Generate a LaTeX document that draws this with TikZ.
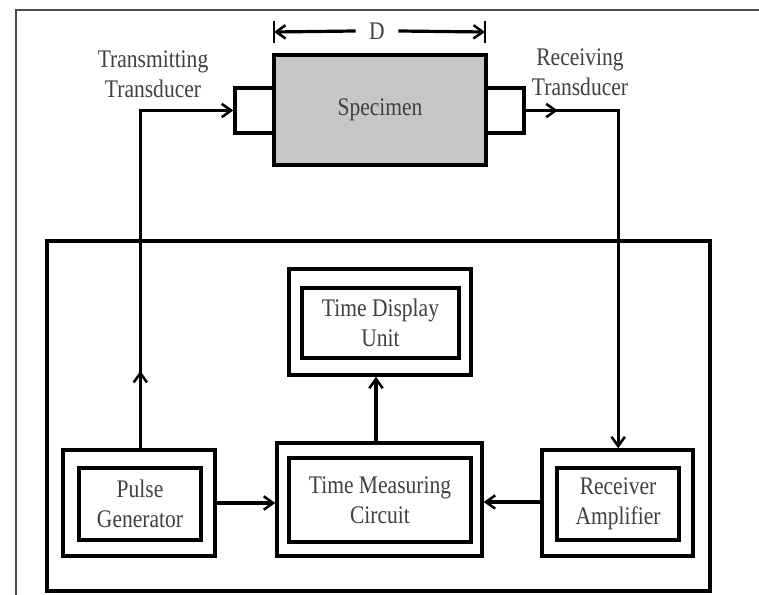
\documentclass[tikz,border=0pt]{standalone}
\usepackage{fontspec}
\setmainfont{Liberation Serif}[FakeStretch=0.85]
\usetikzlibrary{arrows.meta,decorations.markings}

\newcommand{\lblfont}{\fontsize{19}{22.5}\selectfont}

\begin{document}
\begin{tikzpicture}[x=0.75pt,y=-0.75pt,
  tip/.style={-{Straight Barb[length=7pt,width=10pt,line width=1.9pt]}},
  wire/.style={line width=2.4pt, line join=miter},
  midtip/.style={postaction={decorate},
    decoration={markings, mark=at position #1 with {\arrow{Straight Barb[length=7pt,width=10pt,line width=1.9pt]}}}},
  outerbox/.style={draw, line width=2.6pt, inner sep=0pt, fill=white},
  innerbox/.style={draw, line width=2.6pt, inner sep=0pt, align=center,
    font=\lblfont, text=black!75},
  label/.style={align=center, font=\lblfont, text=black!75, inner sep=0pt}]

% page extent
\useasboundingbox (0,0) rectangle (759,595);

% thin frame round the page
\draw[line width=1.5pt, black!70] (16,595) -- (16,10) -- (759,10);

% specimen with its two transducers
\node[outerbox, minimum width=29.25pt, minimum height=33.75pt] (lt) at (254.5,110.5) {};
\node[outerbox, minimum width=28.5pt, minimum height=33.75pt] (rt) at (505,110.5) {};
\node[draw, line width=2.6pt, fill=gray!45, inner sep=0pt,
      minimum width=159pt, minimum height=82.5pt,
      font=\lblfont, text=black!75] (spec) at (380,110) {Specimen};

% length D
\coordinate (dl) at (274,32);
\coordinate (dr) at (485,32);
\node[label] (dlab) at (377,31) {D};
\draw[line width=2.2pt] (274,21) -- (274,43);
\draw[line width=2.2pt] (485,21) -- (485,43);
\draw[wire, tip] ([xshift=-10pt]dlab.west) -- (dl);
\draw[wire, tip] ([xshift=10pt]dlab.east) -- (dr);

% transducer labels
\node[label] (ttx) at (153,74) {Transmitting\\Transducer};
\node[label] (rtx) at (580,72) {Receiving\\Transducer};

% measuring unit enclosure
\node[draw, line width=2.6pt, inner sep=0pt,
      minimum width=497.25pt, minimum height=262.5pt] (unit) at (378.5,416) {};

% pulse generator
\node[outerbox, minimum width=114pt, minimum height=79.5pt] (pgo) at (139,503) {};
\node[innerbox, minimum width=91.5pt, minimum height=54pt] (pg) at (140,504) {Pulse\\Generator};

% time measuring circuit
\node[outerbox, minimum width=153.75pt, minimum height=84.75pt] (tmo) at (379.5,499.5) {};
\node[innerbox, minimum width=136.5pt, minimum height=63pt] (tm) at (380,500) {Time Measuring\\Circuit};

% time display unit
\node[outerbox, minimum width=136.5pt, minimum height=79.5pt] (tdo) at (380,322) {};
\node[innerbox, minimum width=117.75pt, minimum height=52.5pt] (td) at (380.5,323) {Time Display\\Unit};

% receiver amplifier
\node[outerbox, minimum width=113.25pt, minimum height=79.5pt] (rao) at (617.5,503) {};
\node[innerbox, minimum width=91.5pt, minimum height=54pt] (ra) at (618,504) {Receiver\\Amplifier};

% signal paths
\draw[wire, tip, midtip=58pt] ([xshift=1pt]pgo.north) |- (lt.west);
\draw[wire, tip, midtip=24pt] (rt.east) -| ([xshift=0.5pt]rao.north);
\draw[wire, tip] (pgo.east |- 0,503) -- (tmo.west |- 0,503);
\draw[wire, tip] (rao.west |- 0,502) -- (tmo.east |- 0,502);
\draw[wire, tip] (tmo.north -| 376,0) -- (tdo.south -| 376,0);
\end{tikzpicture}
\end{document}
